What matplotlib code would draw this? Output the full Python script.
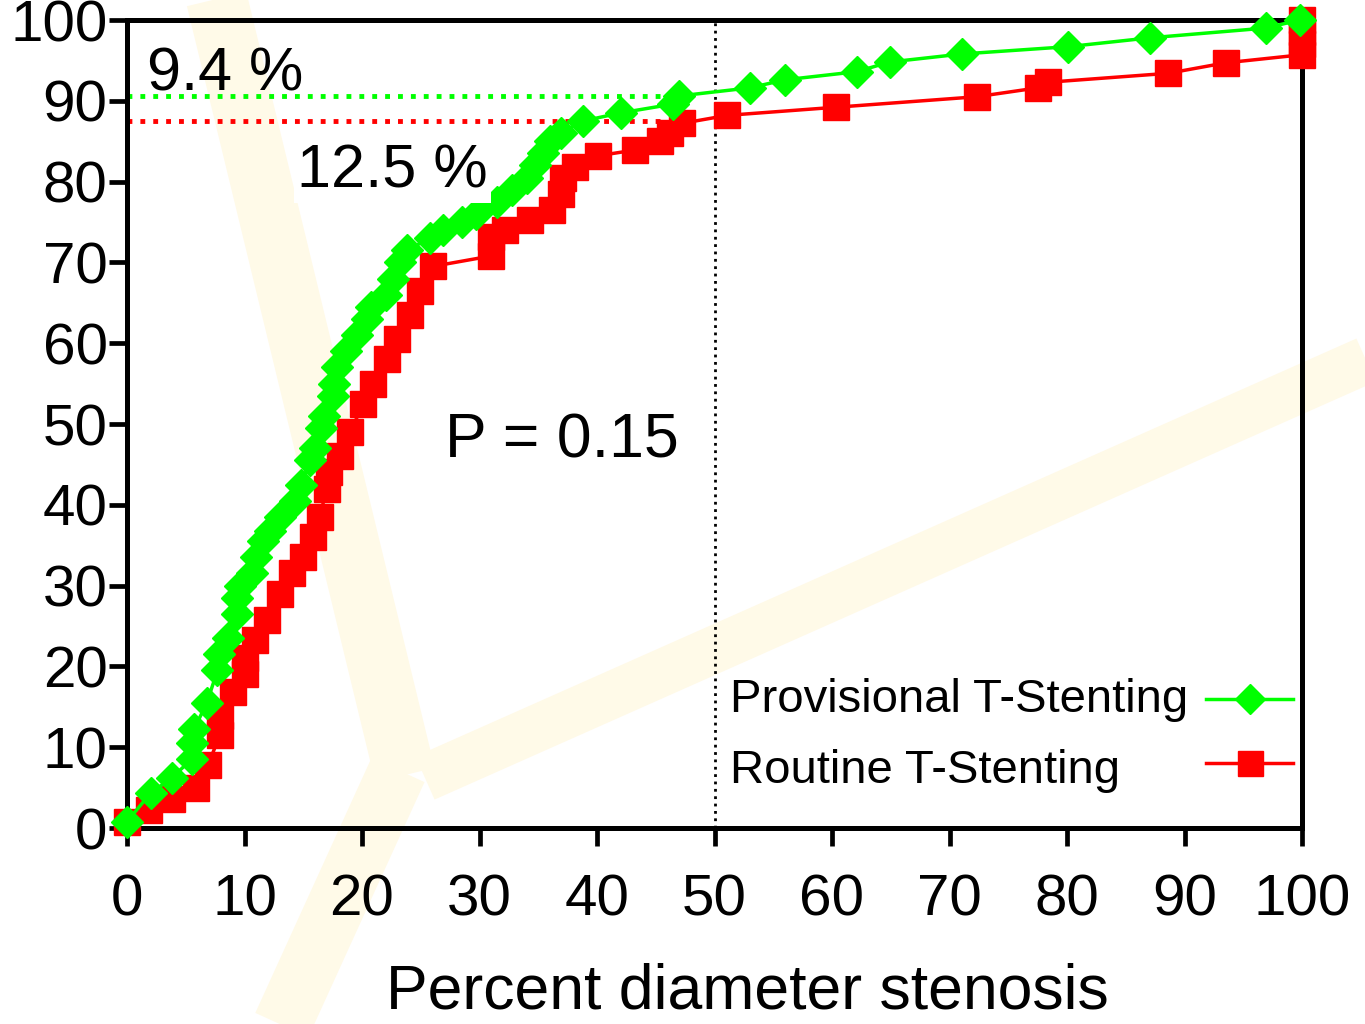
import numpy as np
import matplotlib
matplotlib.use('Agg')
import matplotlib.pyplot as plt
from matplotlib.lines import Line2D

plt.rcParams['font.family'] = ['Liberation Sans', 'DejaVu Sans']

# cumulative distribution (x = % diameter stenosis, y = cumulative %)
prov_x = [0, 2.0, 3.8, 5.5, 5.5, 5.7, 6.8, 7.7, 7.8, 8.6, 9.4, 9.4, 9.6, 10.6, 11.0,
          11.6, 12.2, 13.0, 14.3, 14.8, 15.6, 16.0, 16.5, 16.8, 17.5, 17.6, 17.9, 18.6,
          19.6, 20.4, 20.8, 22.0, 22.6, 23.2, 23.8, 25.8, 26.9, 28.5, 29.7, 31.5, 32.8,
          34.0, 34.7, 35.4, 36.0, 36.9, 38.8, 42.0, 46.5, 47.0, 53.0, 56.0, 62.1, 64.9,
          71.1, 80.1, 87.1, 96.9, 99.8]
prov_y = [0.8, 4.3, 6.2, 8.5, 10.5, 12.2, 15.5, 19.5, 21.5, 23.5, 26.5, 28.5, 30.0, 31.5,
          33.5, 35.5, 36.8, 38.5, 40.5, 42.5, 45.5, 47.0, 49.5, 51.0, 53.5, 55.0, 57.0,
          59.0, 61.0, 63.0, 64.5, 66.0, 68.0, 70.0, 71.5, 73.0, 74.0, 75.0, 76.0, 77.5,
          79.0, 80.5, 82.0, 83.5, 85.0, 86.0, 87.5, 88.5, 89.6, 90.6, 91.6, 92.6, 93.6,
          94.8, 95.8, 96.7, 97.8, 99.0, 100.0]

rout_x = [0, 1.9, 3.8, 5.9, 6.9, 7.9, 7.9, 9.0, 10.0, 10.0, 10.9, 11.9, 13.0, 14.0, 15.0,
          15.8, 16.4, 17.0, 17.2, 18.1, 19.0, 20.1, 20.9, 22.1, 23.0, 24.1, 24.9, 26.0,
          31.0, 31.0, 32.2, 34.3, 36.2, 36.9, 37.1, 38.1, 40.1, 43.2, 45.4, 46.2, 47.2,
          51.1, 60.3, 72.3, 77.5, 78.4, 88.6, 93.5, 100, 100, 100, 100]
rout_y = [0.8, 2.2, 3.6, 5.0, 7.8, 11.5, 13.8, 16.8, 19.0, 21.0, 23.3, 25.7, 29.0, 31.5,
          33.5, 36.0, 38.5, 42.0, 44.0, 46.0, 49.0, 52.5, 55.0, 58.0, 60.5, 63.5, 66.5,
          69.5, 70.8, 73.2, 74.0, 75.3, 76.5, 78.5, 80.5, 81.8, 83.2, 83.9, 85.0, 86.0,
          87.2, 88.2, 89.2, 90.5, 91.6, 92.3, 93.4, 94.7, 95.7, 97.0, 98.5, 100.0]

prov_cut = 90.6   # 9.4 % above 50 %
rout_cut = 87.5   # 12.5 % above 50 %
cut_x = 45.4

green = '#00ff00'
red = '#ff0000'

fig = plt.figure(figsize=(13.65, 10.24), dpi=100)
fig.patch.set_facecolor('white')

# faint watermark in the background
wm = '#fffae8'
def px(x, y):
    return x / 1365, 1 - y / 1024
for (a, b, w) in [((212, -20), (405, 775), 44), ((425, 778), (1400, 345), 34),
                  ((398, 770), (275, 1040), 42)]:
    p, q = px(*a), px(*b)
    fig.add_artist(Line2D([p[0], q[0]], [p[1], q[1]], transform=fig.transFigure,
                          color=wm, lw=w, solid_capstyle='butt', zorder=0))

ax = fig.add_axes([127 / 1365, 1 - 828 / 1024, 1175 / 1365, 808 / 1024])
ax.set_facecolor('none')

ax.plot(prov_x, prov_y, color=green, lw=2.5, marker='D', ms=16, mec=green,
        mfc=green, clip_on=False, zorder=4)
ax.plot(rout_x, rout_y, color=red, lw=2.5, marker='s', ms=19, mec=red,
        mfc=red, clip_on=False, zorder=3)

ax.plot([0, cut_x], [prov_cut, prov_cut], color=green, lw=3.5, ls=':', zorder=2)
ax.plot([0, cut_x], [rout_cut, rout_cut], color=red, lw=3.5, ls=':', zorder=2)
ax.axvline(50, color='black', lw=2, ls=':', zorder=2)

ax.text(1.7, 91.3, '9.4 %', fontsize=44, va='baseline', ha='left', zorder=5)
ax.text(14.5, 79.3, '12.5 %', fontsize=44, va='baseline', ha='left', zorder=5,
        bbox=dict(facecolor='white', edgecolor='none', pad=2))
ax.text(27.1, 45.9, 'P = 0.15', fontsize=45, va='baseline', ha='left', zorder=5)

# legend: labels on the left, handles on the right
ax.text(0.513, 0.1436, 'Provisional T-Stenting', transform=ax.transAxes,
        fontsize=34, va='baseline', ha='left')
ax.text(0.513, 0.0557, 'Routine T-Stenting', transform=ax.transAxes,
        fontsize=34, va='baseline', ha='left')
ax.plot([0.918, 0.956, 0.992], [0.160] * 3, transform=ax.transAxes, color=green,
        lw=2.5, marker='D', ms=15, markevery=[1], clip_on=False)
ax.plot([0.918, 0.956, 0.992], [0.080] * 3, transform=ax.transAxes, color=red,
        lw=2.5, marker='s', ms=18, markevery=[1], clip_on=False)

ax.set_xlim(0, 100)
ax.set_ylim(0, 100)
ax.set_xticks(np.arange(0, 101, 10))
ax.set_yticks(np.arange(0, 101, 10))
for s in ax.spines.values():
    s.set_linewidth(3.6)
ax.tick_params(axis='both', direction='out', length=13, width=3.4, labelsize=42)
ax.tick_params(axis='x', pad=20)
ax.tick_params(axis='y', pad=1)
ax.set_xlabel('Percent diameter stenosis', fontsize=45)
ax.xaxis.set_label_coords(0.528, -0.167)

fig.savefig('out.png', dpi=100, facecolor='white')
